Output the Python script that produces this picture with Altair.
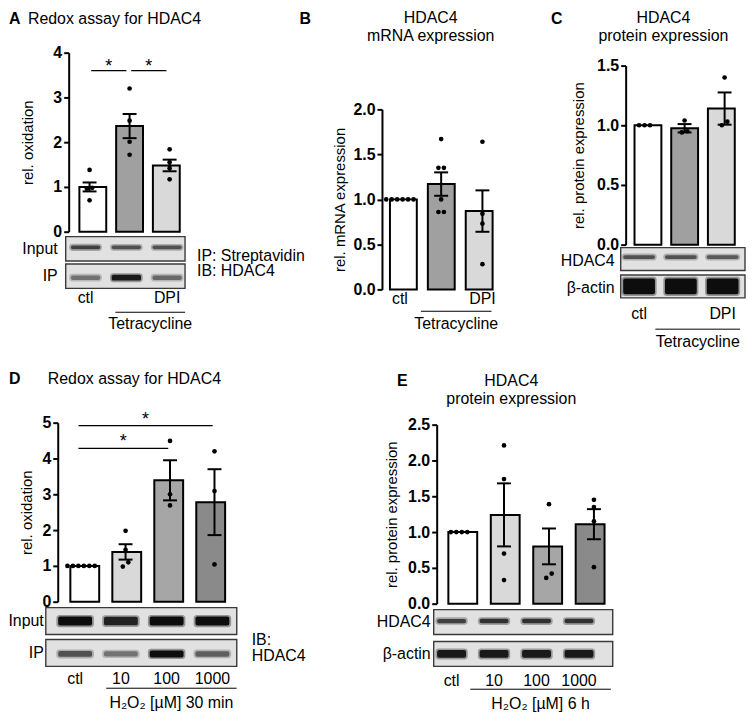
import altair as alt
import pandas as pd

FONT = "Liberation Sans"

# ---------------- data ----------------
A_GROUPS = ["ctl", "Tetracycline", "Tetracycline + DPI"]
A_MEAN = [1.00, 2.36, 1.48]
A_SEM = [0.10, 0.27, 0.13]
A_POINTS = [[1.38, 0.98, 0.96, 0.70],
            [3.20, 2.48, 2.01, 1.72],
            [1.84, 1.55, 1.42, 1.17]]
A_LANE_LABELS = ["ctl", "", "DPI"]
A_GROUP_LABEL = "Tetracycline"
A_BLOT_ROWS = ["Input", "IP"]
A_BLOT_INTENSITY = [[0.72, 0.62, 0.62], [0.45, 0.95, 0.50]]
A_SIG = [(0, 1, 3.6, "*"), (1, 2, 3.6, "*")]

B_GROUPS = ["ctl", "Tetracycline", "Tetracycline + DPI"]
B_MEAN = [1.00, 1.17, 0.87]
B_SEM = [0.0, 0.13, 0.23]
B_POINTS = [[1.0, 1.0, 1.0, 1.0, 1.0, 1.0],
            [1.67, 1.35, 1.35, 1.00, 0.86, 0.86],
            [1.64, 0.84, 0.73, 0.28]]
B_LANE_LABELS = ["ctl", "", "DPI"]
B_GROUP_LABEL = "Tetracycline"

C_GROUPS = ["ctl", "Tetracycline", "Tetracycline + DPI"]
C_MEAN = [1.00, 0.975, 1.14]
C_SEM = [0.0, 0.035, 0.135]
C_POINTS = [[1.0, 1.0, 1.0], [1.04, 0.95, 0.94], [1.40, 1.03, 1.00]]
C_LANE_LABELS = ["ctl", "", "DPI"]
C_GROUP_LABEL = "Tetracycline"
C_BLOT_ROWS = ["HDAC4", "β-actin"]
C_BLOT_INTENSITY = [[0.62, 0.62, 0.58], [1.0, 1.0, 1.0]]

D_GROUPS = ["ctl", "10", "100", "1000"]
D_MEAN = [1.00, 1.39, 3.39, 2.78]
D_SEM = [0.0, 0.215, 0.56, 0.92]
D_POINTS = [[1.0, 1.0, 1.0, 1.0, 1.0, 1.0],
            [1.98, 1.45, 1.10, 0.98],
            [4.49, 3.00, 2.69],
            [4.20, 3.09, 1.04]]
D_LANE_LABELS = ["ctl", "10", "100", "1000"]
D_GROUP_LABEL = "H₂O₂ [µM] 30 min"
D_BLOT_ROWS = ["Input", "IP"]
D_BLOT_INTENSITY = [[1.0, 0.9, 1.0, 1.0], [0.62, 0.45, 1.0, 0.55]]
D_SIG = [(0, 3, 4.92, "*"), (0, 2, 4.28, "*")]

E_GROUPS = ["ctl", "10", "100", "1000"]
E_MEAN = [1.00, 1.24, 0.80, 1.11]
E_SEM = [0.0, 0.44, 0.25, 0.21]
E_POINTS = [[1.0, 1.0, 1.0, 1.0],
            [2.21, 1.74, 0.70, 0.33],
            [1.39, 0.42, 0.36],
            [1.45, 1.35, 1.15, 0.51]]
E_LANE_LABELS = ["ctl", "10", "100", "1000"]
E_GROUP_LABEL = "H₂O₂ [µM] 6 h"
E_BLOT_ROWS = ["HDAC4", "β-actin"]
E_BLOT_INTENSITY = [[0.72, 0.8, 0.8, 0.8], [0.95, 0.95, 0.95, 0.95]]

# ---------------- styles ----------------
COLORS3 = ["#ffffff", "#a0a0a0", "#d9d9d9"]
COLORS4 = ["#ffffff", "#d9d9d9", "#a6a6a6", "#8a8a8a"]
TS = 16  # text size
DUMMY = pd.DataFrame({"d": [0]})


def txt(s, x, y, size=TS, bold=False, align="left", baseline="middle"):
    return alt.Chart(DUMMY).mark_text(
        text=s, font=FONT, fontSize=size, fontWeight="bold" if bold else "normal",
        align=align, baseline=baseline, color="black"
    ).encode(x=alt.value(x), y=alt.value(y))


def jitter(values, ppu, step_px, d=5.5, tol=4.6):
    order = sorted(range(len(values)), key=lambda k: values[k])
    offs = [0.0] * len(values)
    clusters, cur = [], [order[0]]
    for k in order[1:]:
        if (values[k] - values[cur[-1]]) * ppu < tol:
            cur.append(k)
        else:
            clusters.append(cur)
            cur = [k]
    clusters.append(cur)
    for c in clusters:
        m = len(c)
        for j, k in enumerate(c):
            offs[k] = (j - (m - 1) / 2) * d / step_px
    return offs


def panel(P):
    W, H, yo, xo = P["W"], P["H"], P["yo"], P["xo"]
    groups = P["groups"]
    n = len(groups)
    c0, s = P["c0"], P["step"]
    xs = alt.Scale(domain=[-c0 / s, (W - c0) / s], range=[xo, xo + W], nice=False, zero=False)
    ys = alt.Scale(domain=[0, P["ymax"]], range=[yo + H, yo], nice=False, zero=True)
    ppu = H / P["ymax"]

    df = pd.DataFrame({"i": list(range(n)), "g": groups, "mean": P["mean"], "sem": P["sem"]})
    df["lo"] = df["mean"] - df["sem"]
    df["hi"] = df["mean"] + df["sem"]

    layers = []
    layers.append(alt.Chart(df).mark_bar(width=P["bw"], stroke="black", strokeWidth=2).encode(
        x=alt.X("i:Q", scale=xs, axis=None),
        y=alt.Y("mean:Q", scale=ys, title=P["ytitle"], axis=alt.Axis(
            values=P["ticks"], format=P["fmt"], grid=False, domainColor="black", domainWidth=2,
            tickColor="black", tickWidth=2, tickSize=5, labelFont=FONT, labelFontSize=16,
            labelFontWeight="bold", labelColor="black", labelPadding=2, offset=-xo,
            titleFont=FONT, titleFontSize=15, titleFontWeight="normal", titleColor="black",
            titleX=P["titleX"], titleY=yo + H / 2, titleAngle=270)),
        fill=alt.Fill("g:N", scale=alt.Scale(domain=groups, range=P["colors"]), legend=None),
    ))

    de = df[df["sem"] > 0]
    layers.append(alt.Chart(de).mark_rule(strokeWidth=2, color="black").encode(
        x=alt.X("i:Q", scale=xs, axis=None),
        y=alt.Y("lo:Q", scale=ys, axis=None), y2="hi:Q"))
    caps = de.melt(id_vars=["i"], value_vars=["lo", "hi"], value_name="v")
    layers.append(alt.Chart(caps).mark_tick(orient="horizontal", size=P["cap"], thickness=2,
                                            color="black", opacity=1).encode(
        x=alt.X("i:Q", scale=xs, axis=None),
        y=alt.Y("v:Q", scale=ys, axis=None)))

    rows = []
    for i, vals in enumerate(P["points"]):
        offs = jitter(vals, ppu, s)
        for v, o in zip(vals, offs):
            rows.append({"x": i + o, "v": v})
    pts = pd.DataFrame(rows)
    layers.append(alt.Chart(pts).mark_circle(size=22, color="black", opacity=1).encode(
        x=alt.X("x:Q", scale=xs, axis=None),
        y=alt.Y("v:Q", scale=ys, axis=None)))

    if P.get("sig"):
        a0, b0 = P["sig_inset"]
        sg = pd.DataFrame([{"x1": a + a0, "x2": b + b0, "xm": (a + a0 + b + b0) / 2, "y": yv, "t": t}
                           for a, b, yv, t in P["sig"]])
        layers.append(alt.Chart(sg).mark_rule(strokeWidth=1.2, color="black").encode(
            x=alt.X("x1:Q", scale=xs, axis=None), x2="x2:Q",
            y=alt.Y("y:Q", scale=ys, axis=None)))
        layers.append(alt.Chart(sg).mark_text(font=FONT, fontSize=18, baseline="middle",
                                              dy=P["star_dy"], color="black").encode(
            x=alt.X("xm:Q", scale=xs, axis=None),
            y=alt.Y("y:Q", scale=ys, axis=None), text="t:N"))

    if P.get("blot"):
        B = P["blot"]
        nr = len(B["rows"])
        unit = B["strip_h"] + B["gap"]
        f = B["gap"] / 2 / unit
        l0, ls = B["lane0"] + xo, B["lstep"]
        xb = alt.Scale(domain=[-0.5, n - 0.5], range=[l0 - ls / 2, l0 + (n - 0.5) * ls],
                       nice=False, zero=False)
        top0 = yo + B["top"] - B["gap"] / 2
        yb = alt.Scale(domain=[0, nr], range=[top0, top0 + nr * unit], nice=False, zero=False)
        sl = (B["strip_x"][0] + xo - l0) / ls
        sr = (B["strip_x"][1] + xo - l0) / ls
        strips = pd.DataFrame({"x1": [sl] * nr, "x2": [sr] * nr,
                               "y1": [r + f for r in range(nr)],
                               "y2": [r + 1 - f for r in range(nr)],
                               "yc": [r + 0.5 for r in range(nr)],
                               "row": B["rows"]})
        layers.append(alt.Chart(strips).mark_rect(fill="#e1e1e1", stroke="#3a3a3a", strokeWidth=1.4).encode(
            x=alt.X("x1:Q", scale=xb, axis=None), x2="x2:Q",
            y=alt.Y("y1:Q", scale=yb, axis=None), y2="y2:Q"))
        brow = []
        for r in range(nr):
            for j in range(n):
                v = B["intensity"][r][j]
                t = B["thick"][r] * (0.55 + 0.45 * v) / unit
                yc = r + 0.5 + B.get("shift", [0] * nr)[r] / unit
                hw = B.get("half", 0.36)
                brow.append({"x1": j - hw, "x2": j + hw, "y1": yc - t / 2, "y2": yc + t / 2,
                             "hx1": j - hw - 0.04, "hx2": j + hw + 0.04,
                             "hy1": yc - t / 2 - 1.6 / unit, "hy2": yc + t / 2 + 1.6 / unit, "v": v})
        bands = pd.DataFrame(brow)
        cs = alt.Scale(domain=[0, 1], range=["#cfcfcf", "#050505"])
        layers.append(alt.Chart(bands).mark_rect(opacity=0.35, cornerRadius=3).encode(
            x=alt.X("hx1:Q", scale=xb, axis=None), x2="hx2:Q",
            y=alt.Y("hy1:Q", scale=yb, axis=None), y2="hy2:Q",
            color=alt.Color("v:Q", scale=cs, legend=None)))
        layers.append(alt.Chart(bands).mark_rect(opacity=0.95, cornerRadius=2).encode(
            x=alt.X("x1:Q", scale=xb, axis=None), x2="x2:Q",
            y=alt.Y("y1:Q", scale=yb, axis=None), y2="y2:Q",
            color=alt.Color("v:Q", scale=cs, legend=None)))
        layers.append(alt.Chart(strips).mark_text(font=FONT, fontSize=TS, align="right",
                                                  baseline="middle", color="black",
                                                  dy=B.get("label_dy", 0)).encode(
            x=alt.value(B["label_x"] + xo),
            y=alt.Y("yc:Q", scale=yb, axis=None), text="row:N"))
        lane_scale = xb
    else:
        lane_scale = xs

    L = P["labels"]
    ll = pd.DataFrame({"j": list(range(n)), "lab": P["lane_labels"]})
    ll = ll[ll["lab"] != ""]
    layers.append(alt.Chart(ll).mark_text(font=FONT, fontSize=TS, baseline="middle", color="black").encode(
        x=alt.X("j:Q", scale=lane_scale, axis=None), y=alt.value(yo + L["y"]), text="lab:N"))
    ga, gb = L["rule"]
    gdf = pd.DataFrame({"a": [ga], "b": [gb], "m": [(ga + gb) / 2], "t": [P["group_label"]]})
    layers.append(alt.Chart(gdf).mark_rule(strokeWidth=1, color="black").encode(
        x=alt.X("a:Q", scale=lane_scale, axis=None), x2="b:Q", y=alt.value(yo + L["rule_y"])))
    layers.append(alt.Chart(gdf).mark_text(font=FONT, fontSize=TS, baseline="middle", color="black").encode(
        x=alt.X("m:Q", scale=lane_scale, axis=None), y=alt.value(yo + L["text_y"]), text="t:N"))

    for a in P["notes"]:
        opts = a[3] if len(a) > 3 else {}
        layers.append(txt(a[0], a[1] + xo, yo + a[2], **opts))

    return alt.layer(*layers).resolve_scale(
        x="independent", y="independent", color="independent", fill="independent"
    ).properties(width=P["cell_w"], height=yo + H)


TT = 6  # top row titles sit a little lower (page margin)

PA = dict(W=122, H=180, yo=0, xo=0, cell_w=370, groups=A_GROUPS, mean=A_MEAN, sem=A_SEM,
          points=A_POINTS, ymax=4, ticks=[0, 1, 2, 3, 4], fmt="d", c0=21, step=40.25, bw=27, cap=14,
          colors=COLORS3, ytitle="rel. oxidation", titleX=-33.5,
          sig=A_SIG, sig_inset=(0.04, -0.08), star_dy=-4,
          blot=dict(rows=A_BLOT_ROWS, intensity=A_BLOT_INTENSITY, lane0=17, lstep=41,
                    strip_x=(-3, 117), top=185, strip_h=24.5, gap=3, label_x=-11,
                    thick=[4.5, 6], shift=[-1.5, 1.5]),
          lane_labels=A_LANE_LABELS, group_label=A_GROUP_LABEL,
          labels=dict(y=247, rule=(0.73, 2.44), rule_y=261, text_y=273),
          notes=[("A", -60, -40 + TT, dict(bold=True)),
                 ("Redox assay for HDAC4", -41, -40 + TT),
                 ("IP: Streptavidin", 129, 204),
                 ("IB: HDAC4", 129, 220)])

PB = dict(W=122, H=181, yo=57, xo=-55, cell_w=190, groups=B_GROUPS, mean=B_MEAN, sem=B_SEM,
          points=B_POINTS, ymax=2, ticks=[0, 0.5, 1, 1.5, 2], fmt=".1f", c0=18, step=41.5, bw=27, cap=14,
          colors=COLORS3, ytitle="rel. mRNA expression", titleX=-34.5,
          lane_labels=B_LANE_LABELS, group_label=B_GROUP_LABEL,
          labels=dict(y=191, rule=(0.51, 2.22), rule_y=203, text_y=216),
          notes=[("B", -83, -97 + TT, dict(bold=True)),
                 ("HDAC4", 49, -98 + TT, dict(align="center")),
                 ("mRNA expression", 49, -80 + TT, dict(align="center"))])

PC = dict(W=120, H=180, yo=13, xo=0, cell_w=120, groups=C_GROUPS, mean=C_MEAN, sem=C_SEM,
          points=C_POINTS, ymax=1.5, ticks=[0, 0.5, 1, 1.5], fmt=".1f", c0=19, step=40.25, bw=27, cap=14,
          colors=COLORS3, ytitle="rel. protein expression", titleX=-39.5,
          blot=dict(rows=C_BLOT_ROWS, intensity=C_BLOT_INTENSITY, lane0=13.5, lstep=42,
                    strip_x=(-5, 120), top=183, strip_h=23, gap=4.5, label_x=-11,
                    thick=[4.5, 16], shift=[-2, 0], half=0.38, label_dy=2),
          lane_labels=C_LANE_LABELS, group_label=C_GROUP_LABEL,
          labels=dict(y=250, rule=(0.39, 2.42), rule_y=265, text_y=278),
          notes=[("C", -75, -53 + TT, dict(bold=True)),
                 ("HDAC4", 38, -54 + TT, dict(align="center")),
                 ("protein expression", 38, -36 + TT, dict(align="center"))])

PD = dict(W=179, H=180, yo=0, xo=-11, cell_w=370, groups=D_GROUPS, mean=D_MEAN, sem=D_SEM,
          points=D_POINTS, ymax=5, ticks=[0, 1, 2, 3, 4, 5], fmt="d", c0=23.5, step=44.7, bw=29, cap=14,
          colors=COLORS4, ytitle="rel. oxidation", titleX=-23,
          sig=D_SIG, sig_inset=(-0.06, -0.04), star_dy=-6,
          blot=dict(rows=D_BLOT_ROWS, intensity=D_BLOT_INTENSITY, lane0=17.5, lstep=46,
                    strip_x=(-12, 180), top=186, strip_h=27, gap=5, label_x=-14,
                    thick=[9, 7], shift=[0, 1], half=0.37),
          lane_labels=D_LANE_LABELS, group_label=D_GROUP_LABEL,
          labels=dict(y=258, rule=(0.68, 3.53), rule_y=267, text_y=282),
          notes=[("D", -49, -44, dict(bold=True)),
                 ("Redox assay for HDAC4", -10, -44),
                 ("IB:", 195, 219),
                 ("HDAC4", 195, 235)])

PE = dict(W=179, H=180, yo=2, xo=0, cell_w=190, groups=E_GROUPS, mean=E_MEAN, sem=E_SEM,
          points=E_POINTS, ymax=2.5, ticks=[0, 0.5, 1, 1.5, 2, 2.5], fmt=".1f", c0=22.5, step=45.2,
          bw=29, cap=14, colors=COLORS4, ytitle="rel. protein expression", titleX=-37,
          blot=dict(rows=E_BLOT_ROWS, intensity=E_BLOT_INTENSITY, lane0=15, lstep=42.7,
                    strip_x=(-3, 177), top=186, strip_h=25, gap=7, label_x=-6,
                    thick=[5, 8], shift=[-1, 0], half=0.34),
          lane_labels=E_LANE_LABELS, group_label=E_GROUP_LABEL,
          labels=dict(y=258, rule=(0.44, 3.75), rule_y=266, text_y=281),
          notes=[("E", -40, -44, dict(bold=True)),
                 ("HDAC4", 75, -44, dict(align="center")),
                 ("protein expression", 75, -26, dict(align="center"))])

cells = [panel(PA), panel(PB), panel(PC), panel(PD), panel(PE)]

chart = alt.concat(*cells, columns=3, spacing={"row": 134, "column": 0}, bounds="flush",
                   align="none", padding=0).configure(
    font=FONT, background="white").configure_view(stroke=None)

chart.save("out.html", embed_options={"renderer": "svg", "actions": False})
